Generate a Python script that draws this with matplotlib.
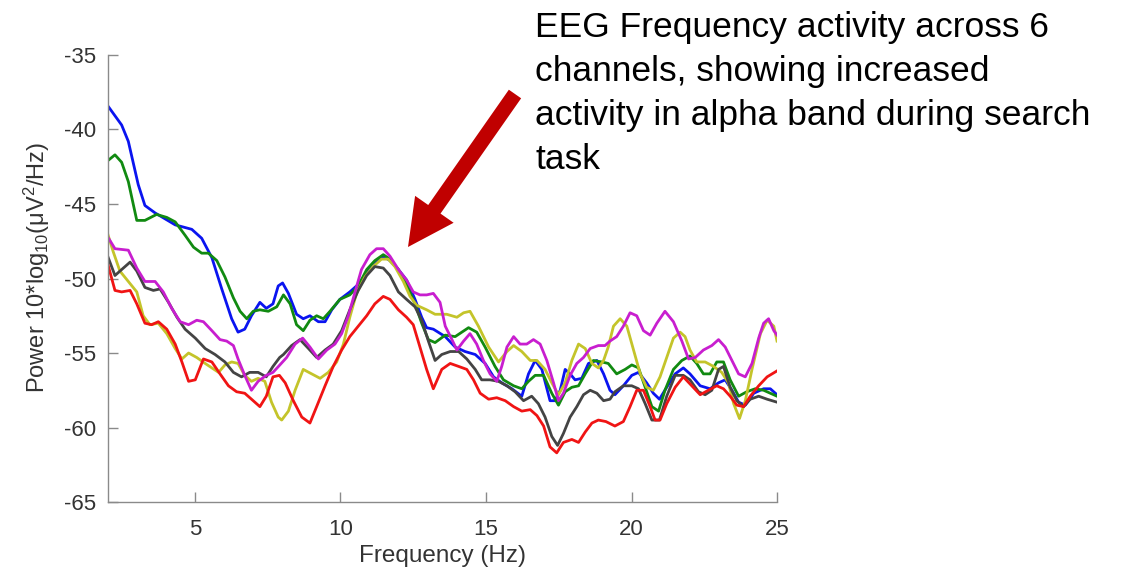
import matplotlib
matplotlib.use("Agg")
import matplotlib.pyplot as plt
from matplotlib.patches import FancyArrow

plt.rcParams["font.family"] = ["Liberation Sans", "DejaVu Sans"]
plt.rcParams["mathtext.fontset"] = "custom"
plt.rcParams["mathtext.rm"] = "Liberation Sans"
plt.rcParams["mathtext.it"] = "Liberation Sans:italic"
plt.rcParams["axes.unicode_minus"] = False

# spectra per channel, frequency in Hz, power in dB
blue_freq = [2.0, 2.48, 2.71, 3.05, 3.28, 3.63, 4.32, 4.89, 5.23, 5.58, 5.92, 6.26, 6.48, 6.71, 6.94,
             7.23, 7.45, 7.68, 7.86, 8.01, 8.21, 8.49, 8.72, 8.95, 9.24, 9.47, 9.70, 9.98, 10.32, 10.61,
             10.90, 11.18, 11.47, 11.70, 11.99, 12.27, 12.56, 12.79, 12.96, 13.19, 13.6, 13.94, 14.28,
             14.63, 14.97, 15.26, 15.54, 15.89, 16.23, 16.46, 16.69, 16.92, 17.2, 17.37, 17.55, 17.72,
             17.89, 18.06, 18.29, 18.52, 18.81, 19.04, 19.26, 19.43, 19.72, 20.01, 20.24, 20.52, 20.75,
             20.96, 21.21, 21.5, 21.78, 22.01, 22.36, 22.7, 22.99, 23.22, 23.45, 23.68, 23.91, 24.2,
             24.54, 24.77, 25.0]
blue_power = [-38.4, -39.7, -40.8, -43.7, -45.1, -45.6, -46.4, -46.7, -47.3, -48.6, -50.7, -52.7, -53.6,
              -53.4, -52.5, -51.6, -52.0, -51.7, -50.5, -50.3, -51.0, -52.4, -52.7, -52.5, -52.9, -52.9,
              -52.1, -51.4, -50.9, -50.4, -49.6, -48.9, -48.5, -48.8, -49.4, -50.1, -51.4, -52.6, -53.3,
              -53.4, -53.9, -54.6, -54.9, -55.1, -55.7, -56.6, -57.0, -57.4, -57.9, -56.4, -55.5, -56.1,
              -58.2, -58.2, -57.5, -56.1, -56.4, -56.8, -56.7, -55.7, -55.5, -56.4, -57.5, -57.8, -57.2,
              -56.5, -56.3, -57.0, -57.7, -58.1, -57.3, -56.4, -56.0, -56.4, -57.2, -57.4, -57.0, -56.8,
              -57.5, -58.3, -58.5, -57.7, -57.4, -57.4, -57.8]

green_freq = [2.0, 2.25, 2.48, 2.71, 3.0, 3.28, 3.68, 4.03, 4.32, 4.66, 4.95, 5.23, 5.46, 5.75, 6.03,
              6.32, 6.55, 6.78, 7.0, 7.23, 7.52, 7.81, 8.04, 8.27, 8.49, 8.72, 8.95, 9.18, 9.41, 9.64,
              9.98, 10.32, 10.61, 10.9, 11.18, 11.47, 11.7, 11.99, 12.27, 12.56, 12.79, 13.02, 13.25,
              13.6, 13.94, 14.4, 14.68, 14.97, 15.31, 15.6, 15.95, 16.23, 16.46, 16.69, 16.98, 17.26,
              17.49, 17.72, 17.95, 18.18, 18.41, 18.69, 18.98, 19.2, 19.49, 19.78, 20.01, 20.24, 20.47,
              20.7, 20.93, 21.15, 21.44, 21.73, 22.01, 22.24, 22.47, 22.7, 22.93, 23.16, 23.39, 23.68,
              23.96, 24.25, 24.54, 24.77, 25.0]
green_power = [-42.1, -41.7, -42.2, -43.5, -46.1, -46.1, -45.7, -45.9, -46.2, -47.1, -47.9, -48.3, -48.3,
               -48.8, -49.9, -51.3, -52.2, -52.7, -52.2, -52.1, -52.2, -51.9, -51.1, -51.7, -53.1, -53.5,
               -52.8, -52.5, -52.7, -52.2, -51.4, -51.1, -50.5, -49.4, -48.8, -48.4, -48.7, -49.4, -50.4,
               -51.7, -53.0, -54.1, -54.3, -53.8, -53.9, -53.3, -53.6, -54.6, -55.9, -56.8, -57.2, -57.4,
               -56.9, -56.5, -56.5, -57.7, -58.5, -57.6, -57.3, -57.2, -56.4, -55.5, -55.6, -55.7, -56.4,
               -56.1, -55.8, -56.0, -57.3, -58.6, -58.9, -57.5, -56.1, -55.5, -55.2, -55.7, -56.4, -56.4,
               -55.6, -55.6, -56.8, -57.9, -57.6, -57.4, -57.5, -57.7, -57.9]

yellow_freq = [2.0, 2.19, 2.42, 2.71, 3.0, 3.22, 3.45, 3.74, 4.03, 4.32, 4.55, 4.78, 5.06, 5.35, 5.58,
               5.81, 6.03, 6.26, 6.48, 6.71, 6.94, 7.17, 7.4, 7.63, 7.86, 7.98, 8.21, 8.44, 8.72, 9.01,
               9.3, 9.58, 9.87, 10.1, 10.32, 10.55, 10.84, 11.12, 11.41, 11.64, 11.87, 12.16, 12.39,
               12.62, 12.96, 13.25, 13.65, 14.0, 14.23, 14.45, 14.74, 15.09, 15.43, 15.72, 15.95, 16.23,
               16.52, 16.75, 17.03, 17.26, 17.49, 17.72, 17.95, 18.18, 18.41, 18.64, 18.86, 19.04, 19.2,
               19.38, 19.61, 19.84, 20.07, 20.3, 20.52, 20.75, 20.98, 21.21, 21.44, 21.67, 21.84, 22.01,
               22.24, 22.53, 22.82, 23.1, 23.33, 23.51, 23.71, 23.91, 24.14, 24.43, 24.66, 24.89, 25.0]
yellow_power = [-47.0, -48.2, -49.5, -50.2, -50.9, -52.5, -53.1, -53.0, -53.7, -54.7, -55.4, -55.0,
                -55.3, -55.7, -56.0, -56.3, -55.8, -55.6, -55.7, -56.5, -56.9, -56.7, -56.9, -58.3,
                -59.3, -59.5, -58.9, -57.5, -56.1, -56.4, -56.7, -56.3, -55.6, -54.4, -52.6, -51.0,
                -49.9, -49.2, -48.7, -48.7, -49.2, -50.2, -51.2, -51.8, -52.1, -52.4, -52.4, -52.6,
                -52.3, -52.2, -53.2, -54.6, -55.6, -54.9, -54.5, -54.9, -55.5, -55.5, -56.1, -57.0,
                -57.8, -57.0, -55.5, -54.4, -54.7, -55.7, -56.0, -55.5, -54.6, -53.2, -52.7, -53.2,
                -54.8, -56.4, -57.3, -57.5, -56.6, -55.3, -54.0, -53.6, -53.9, -54.8, -55.6, -55.6,
                -55.9, -56.3, -57.0, -58.4, -59.4, -58.2, -56.1, -53.7, -52.8, -53.2, -54.2]

gray_freq = [2.0, 2.25, 2.48, 2.77, 3.0, 3.28, 3.57, 3.8, 4.09, 4.38, 4.66, 5.01, 5.35, 5.69, 6.03,
             6.32, 6.6, 6.88, 7.17, 7.45, 7.68, 7.91, 8.04, 8.32, 8.61, 8.9, 9.18, 9.47, 9.75, 10.04,
             10.32, 10.61, 10.9, 11.18, 11.47, 11.7, 11.99, 12.27, 12.56, 12.79, 13.02, 13.25, 13.48,
             13.77, 14.06, 14.34, 14.63, 14.85, 15.14, 15.43, 15.72, 16.0, 16.29, 16.57, 16.8, 17.03,
             17.26, 17.46, 17.66, 17.89, 18.12, 18.35, 18.58, 18.81, 19.04, 19.26, 19.43, 19.72, 20.01,
             20.24, 20.47, 20.7, 20.96, 21.21, 21.5, 21.78, 22.01, 22.3, 22.53, 22.76, 22.99, 23.16,
             23.39, 23.62, 23.85, 24.08, 24.37, 24.66, 25.0]
gray_power = [-48.5, -49.8, -49.4, -48.9, -49.5, -50.6, -50.8, -50.7, -51.6, -52.6, -53.4, -54.0, -54.7,
              -55.1, -55.6, -56.3, -56.6, -56.3, -56.3, -56.6, -55.9, -55.3, -55.1, -54.5, -54.1, -54.7,
              -55.3, -54.8, -54.4, -53.5, -52.1, -50.8, -49.8, -49.2, -49.3, -49.8, -50.9, -51.4, -51.9,
              -52.8, -54.2, -55.5, -55.1, -54.9, -54.9, -55.4, -56.1, -56.8, -56.8, -56.9, -57.2, -57.6,
              -58.2, -57.9, -58.4, -59.3, -60.6, -61.2, -60.4, -59.3, -58.6, -57.8, -57.5, -57.7, -58.2,
              -58.1, -57.6, -57.2, -57.2, -57.4, -58.4, -59.5, -59.5, -57.9, -56.5, -56.5, -56.8, -57.6,
              -57.8, -57.5, -56.1, -55.9, -57.3, -58.2, -58.6, -58.1, -57.9, -58.1, -58.3]

red_freq = [2.0, 2.25, 2.48, 2.77, 3.0, 3.28, 3.51, 3.74, 4.03, 4.32, 4.55, 4.78, 5.01, 5.29, 5.58,
            5.86, 6.15, 6.43, 6.71, 7.0, 7.23, 7.45, 7.68, 7.9, 8.1, 8.38, 8.67, 8.95, 9.18, 9.47, 9.75,
            10.04, 10.32, 10.61, 10.9, 11.18, 11.47, 11.7, 11.99, 12.27, 12.5, 12.73, 12.96, 13.19,
            13.48, 13.77, 14.06, 14.34, 14.57, 14.8, 15.09, 15.37, 15.66, 15.95, 16.23, 16.52, 16.75,
            16.98, 17.2, 17.43, 17.66, 17.95, 18.18, 18.41, 18.64, 18.86, 19.12, 19.43, 19.72, 19.95,
            20.18, 20.41, 20.64, 20.81, 20.98, 21.21, 21.5, 21.78, 22.07, 22.36, 22.64, 22.93, 23.16,
            23.39, 23.62, 23.85, 24.08, 24.37, 24.66, 25.0]
red_power = [-49.0, -50.8, -50.9, -50.8, -51.7, -53.0, -53.1, -52.9, -53.4, -54.4, -55.6, -56.9, -56.8,
             -55.4, -55.6, -56.4, -57.2, -57.6, -57.7, -58.2, -58.6, -57.9, -56.6, -56.5, -57.0, -58.2,
             -59.3, -59.7, -58.6, -57.2, -55.9, -54.8, -53.9, -53.2, -52.5, -51.7, -51.2, -51.4, -52.1,
             -52.6, -53.1, -54.6, -56.1, -57.4, -56.1, -55.7, -55.9, -56.1, -56.8, -57.7, -58.1, -58.0,
             -58.2, -58.6, -58.9, -58.8, -59.2, -59.9, -61.3, -61.7, -61.0, -60.8, -61.0, -60.3, -59.7,
             -59.5, -59.6, -59.9, -59.6, -58.6, -57.5, -57.5, -58.6, -59.5, -59.5, -58.4, -57.3, -56.6,
             -57.2, -57.8, -57.5, -57.2, -57.4, -57.9, -58.5, -58.6, -57.9, -57.2, -56.6, -56.2]

magenta_freq = [2.0, 2.25, 2.71, 3.0, 3.28, 3.63, 3.91, 4.2, 4.49, 4.78, 5.06, 5.29, 5.58, 5.86, 6.09,
                6.32, 6.48, 6.71, 6.94, 7.17, 7.45, 7.68, 7.87, 8.15, 8.44, 8.7, 8.95, 9.24, 9.53, 9.81,
                10.04, 10.27, 10.5, 10.72, 11.01, 11.24, 11.47, 11.7, 11.99, 12.27, 12.5, 12.73, 12.96,
                13.19, 13.42, 13.6, 13.83, 14.0, 14.23, 14.45, 14.68, 14.91, 15.14, 15.37, 15.54, 15.72,
                15.95, 16.17, 16.4, 16.63, 16.86, 17.09, 17.32, 17.49, 17.66, 17.89, 18.12, 18.35, 18.58,
                18.86, 19.09, 19.26, 19.49, 19.72, 19.95, 20.18, 20.41, 20.64, 20.87, 21.15, 21.44, 21.73,
                21.96, 22.19, 22.47, 22.76, 22.99, 23.22, 23.45, 23.68, 23.91, 24.14, 24.37, 24.54, 24.71,
                24.89, 25.0]
magenta_power = [-47.2, -48.0, -48.1, -49.3, -50.2, -50.2, -50.9, -52.0, -52.9, -53.1, -52.8, -52.9,
                 -53.5, -54.1, -54.2, -54.5, -55.4, -56.5, -57.5, -56.9, -56.5, -56.3, -55.9, -55.3,
                 -54.4, -54.0, -54.6, -55.4, -54.8, -54.4, -53.7, -52.5, -50.9, -49.4, -48.4, -48.0,
                 -48.0, -48.5, -49.4, -50.1, -50.9, -51.1, -51.1, -51.0, -51.6, -53.2, -54.1, -54.8,
                 -54.2, -53.7, -54.4, -55.5, -56.4, -56.9, -55.9, -54.6, -53.9, -54.4, -54.4, -54.1,
                 -54.4, -55.5, -57.0, -58.2, -57.7, -56.5, -55.7, -55.3, -54.7, -54.5, -54.5, -54.2,
                 -53.9, -53.2, -52.3, -52.5, -53.5, -53.8, -53.0, -52.2, -52.9, -54.2, -55.4, -55.3,
                 -54.8, -54.5, -54.1, -54.6, -55.5, -56.4, -56.6, -55.7, -54.0, -53.0, -52.7, -53.5, -53.8]

channels = [
    (blue_freq, blue_power, "#0a14f0"),
    (green_freq, green_power, "#118a11"),
    (yellow_freq, yellow_power, "#c4c42a"),
    (gray_freq, gray_power, "#444444"),
    (red_freq, red_power, "#f01414"),
    (magenta_freq, magenta_power, "#c81ecf"),
]

fig = plt.figure(figsize=(11.24, 5.71), dpi=100)
ax = fig.add_axes([0.0958, 0.1208, 0.5955, 0.7829])

for freq, power, col in channels:
    ax.plot(freq, power, color=col, lw=2.0, solid_joinstyle="round")

ax.set_xlim(2, 25)
ax.set_ylim(-65, -35)
ax.set_xticks([5, 10, 15, 20, 25])
ax.set_yticks([-65, -60, -55, -50, -45, -40, -35])
for side in ("top", "right"):
    ax.spines[side].set_visible(False)
for side in ("left", "bottom"):
    ax.spines[side].set_color("#8a8a8a")
    ax.spines[side].set_linewidth(1.0)
ax.tick_params(direction="in", length=7, width=1.0, color="#8a8a8a",
               labelsize=16, labelcolor="#333333", pad=8)
ax.tick_params(axis="x", pad=12)
ax.set_xlabel("Frequency (Hz)", fontsize=17.5, color="#333333", labelpad=4)
ax.set_ylabel("Power 10*log$_{10}$(μV$^2$/Hz)", fontsize=17, color="#333333", labelpad=8)
ax.yaxis.set_label_coords(-0.083, 0.525)

# callout text and arrow, drawn in pixel coordinates
overlay = fig.add_axes([0, 0, 1, 1], facecolor="none")
overlay.set_xlim(0, 1124)
overlay.set_ylim(571, 0)
overlay.axis("off")
overlay.text(535, 11, "EEG Frequency activity across 6\nchannels, showing increased\n"
             "activity in alpha band during search\ntask",
             fontsize=25.5, va="top", ha="left", linespacing=1.42, color="black")
overlay.add_patch(FancyArrow(515, 94, -107, 153, width=15, head_width=47, head_length=46,
                             length_includes_head=True, color="#c00000", lw=0))

fig.savefig("out.png", dpi=100)
